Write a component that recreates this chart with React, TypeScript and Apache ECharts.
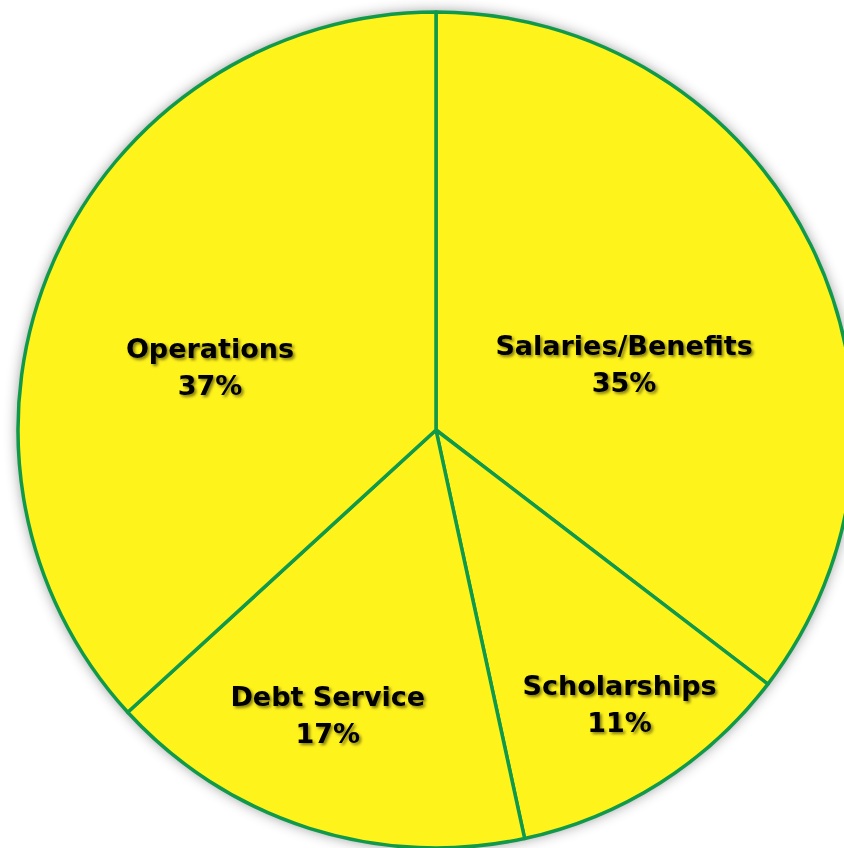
import React, { useEffect, useRef } from "react";
import * as echarts from "echarts";

const categories = ["Salaries/Benefits", "Scholarships", "Debt Service", "Operations"];
const values = [35.4, 11.2, 16.6, 36.8];
// label nudges (px) relative to ECharts' inside position
const labelDx = [-2, 70, -44, -32];
const labelDy = [28, 95, 83, 22];

export default function App() {
  const ref = useRef<HTMLDivElement>(null);
  useEffect(() => {
    if (!ref.current) return;
    const chart = echarts.init(ref.current, undefined, { renderer: "svg" });
    const fill = "#FFF31C";
    const green = "#10994A";
    chart.setOption({
      animation: false,
      backgroundColor: "#ffffff",
      series: [
        {
          type: "pie",
          center: [436, 430],
          radius: [0, 418],
          silent: true,
          label: { show: false },
          labelLine: { show: false },
          itemStyle: {
            color: fill,
            shadowBlur: 14,
            shadowColor: "rgba(0,0,0,0.45)",
            shadowOffsetX: 0,
            shadowOffsetY: 0,
          },
          data: [{ value: 1, name: "bg" }],
          z: 1,
        },
        {
          type: "pie",
          center: [436, 430],
          radius: [0, 418],
          startAngle: 90,
          clockwise: true,
          z: 2,
          itemStyle: { color: fill, borderColor: green, borderWidth: 3.5 },
          label: {
            show: true,
            position: "inside",
            formatter: (p: any) => `${p.name}\n${Math.round(p.value)}%`,
            color: "#000",
            fontFamily: "DejaVu Sans",
            fontWeight: "bold",
            fontSize: 27,
            lineHeight: 37,
            align: "center",
            textShadowColor: "rgba(0,0,0,0.5)",
            textShadowBlur: 3,
            textShadowOffsetX: 2,
            textShadowOffsetY: 2,
          },
          labelLine: { show: false },
          labelLayout: (params: any) => ({
            dx: labelDx[params.dataIndex],
            dy: labelDy[params.dataIndex],
          }),
          data: categories.map((c, i) => ({ name: c, value: values[i] })),
        },
      ],
    });
    return () => chart.dispose();
  }, []);
  return (
    <div
      ref={ref}
      style={{ position: "fixed", left: 0, top: 0, width: 844, height: 848 }}
    />
  );
}
